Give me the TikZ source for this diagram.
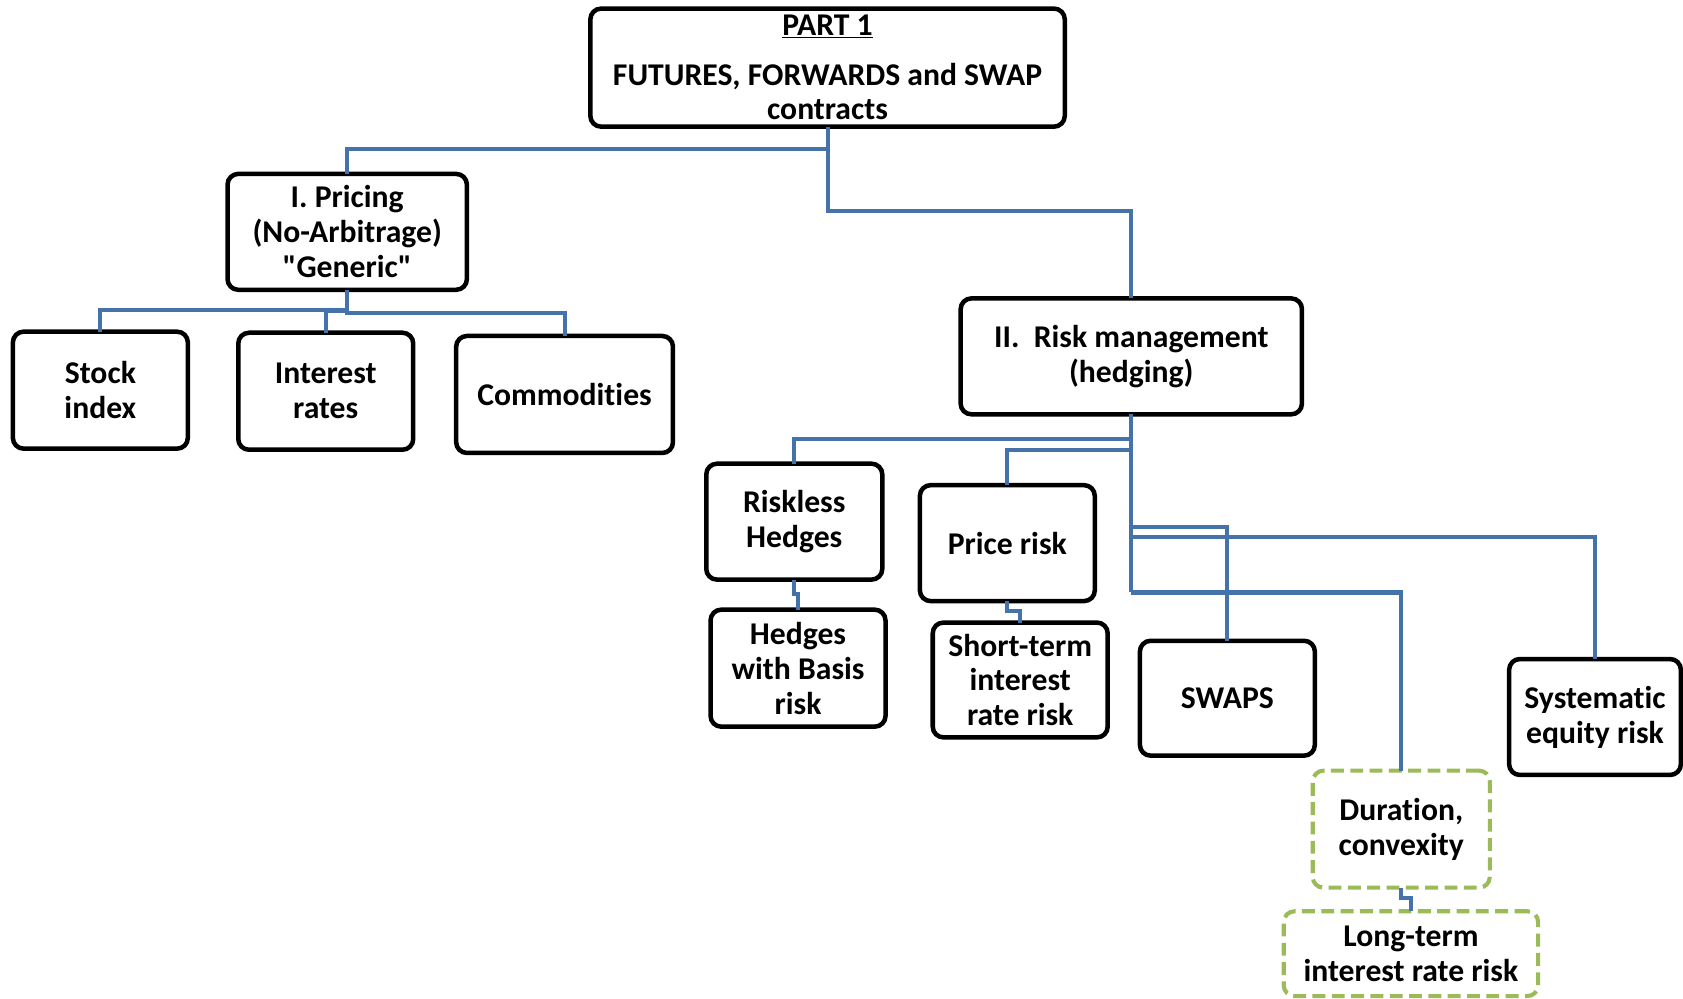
\documentclass[tikz,border=0pt]{standalone}
\usepackage{fontspec}
\setmainfont{Carlito}[Ligatures=NoCommon]
\definecolor{connblue}{RGB}{70,114,170}
\definecolor{dashgreen}{RGB}{155,187,89}
\begin{document}
\begin{tikzpicture}[x=1pt,y=-1pt,
  box/.style={draw=black,line width=4.2pt,rounded corners=10pt,fill=white,align=center,
    font=\fontsize{29.5}{32.5}\selectfont\bfseries,inner sep=0pt,outer sep=0pt},
  gbox/.style={box,draw=dashgreen,line width=3.8pt,dash pattern=on 12pt off 6pt},
  conn/.style={draw=connblue,line width=3.8pt}]
\useasboundingbox (0,0) rectangle (1568,930);
% nodes
\node[box,minimum width=442,minimum height=110] (top) at (771,63) {\underline{PART 1}\\[13.5pt]FUTURES, FORWARDS and SWAP\\contracts};
\node[box,minimum width=223,minimum height=108] (pricing) at (323.5,216) {I. Pricing\\(No-Arbitrage)\\\textquotedbl Generic\textquotedbl};
\node[box,minimum width=163,minimum height=109] (stock) at (93.5,363.5) {Stock\\index};
\node[box,minimum width=163,minimum height=109] (interest) at (303.5,364.5) {Interest\\rates};
\node[box,minimum width=202,minimum height=109] (comm) at (526,367.5) {Commodities};
\node[box,minimum width=318,minimum height=108] (risk) at (1054,332) {II.~ Risk management\\(hedging)};
\node[box,minimum width=164,minimum height=108] (riskless) at (740,486) {Riskless\\Hedges};
\node[box,minimum width=163,minimum height=109] (hedges) at (743.5,622.5) {Hedges\\with Basis\\risk};
\node[box,minimum width=163,minimum height=108] (price) at (938.5,506) {Price risk};
\node[box,minimum width=163,minimum height=107] (short) at (950.5,633.5) {Short-term\\interest\\rate risk};
\node[box,minimum width=163,minimum height=107] (swaps) at (1143.5,650.5) {SWAPS};
\node[box,minimum width=160,minimum height=108] (sys) at (1486,668) {Systematic\\equity risk};
\node[gbox,minimum width=165,minimum height=109] (dur) at (1305.5,772.5) {Duration,\\convexity};
\node[gbox,minimum width=237,minimum height=79] (long) at (1314.5,888.5) {Long-term\\interest rate risk};
% connectors
\draw[conn] (top.south) -- (top.south |- 0,139) -| (pricing.north);
\draw[conn] (top.south |- 0,139) -- (top.south |- 0,197) -| (risk.north);
\draw[conn] (pricing.south) -- (pricing.south |- 0,289) -| (stock.north);
\draw[conn] (pricing.south |- 0,289) -- (pricing.south |- 0,292) -| (comm.north);
\draw[conn] (pricing.south |- 0,290) -| (interest.north);
\draw[conn] (risk.south) -- (risk.south |- 0,552);
\draw[conn] (risk.south |- 0,409) -| (riskless.north);
\draw[conn] (risk.south |- 0,419) -| (price.north);
\draw[conn] (risk.south |- 0,491) -| (swaps.north);
\draw[conn] (risk.south |- 0,500) -| (sys.north);
\draw[conn] (risk.south |- 0,552) -| (dur.north);
\draw[conn] (riskless.south) -- (riskless.south |- 0,553) -| (hedges.north);
\draw[conn] (price.south) -- (price.south |- 0,569) -| (short.north);
\draw[conn] (dur.south) -- (dur.south |- 0,837) -| (long.north);
\end{tikzpicture}
\end{document}
